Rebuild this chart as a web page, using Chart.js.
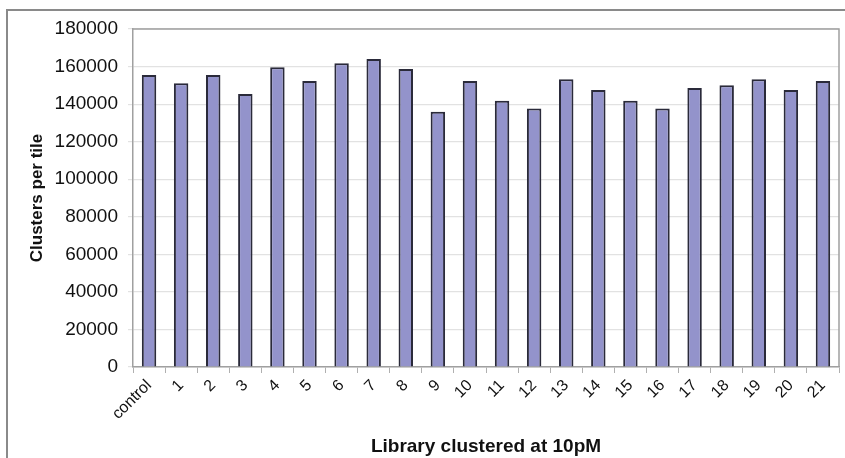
<!DOCTYPE html>
<html>
<head>
<meta charset="utf-8">
<script src="https://cdn.jsdelivr.net/npm/chart.js@4/dist/chart.umd.min.js"></script>
<style>
  html, body { margin: 0; padding: 0; background: #fff; overflow: hidden; }
  #wrap { position: relative; width: 845px; height: 458px; }
  #frame { position: absolute; left: 6px; top: 9px; width: 900px; height: 500px;
           border-left: 2px solid #8a8a8a; border-top: 2px solid #8a8a8a; }
  canvas { position: absolute; left: 0; top: 0; }
</style>
</head>
<body>
<div id="wrap">
  <div id="frame"></div>
  <canvas id="c" width="845" height="458"></canvas>
</div>
<script>
const categories = ['control','1','2','3','4','5','6','7','8','9','10','11','12','13','14','15','16','17','18','19','20','21'];
const clustersPerTile = [155500, 151100, 155500, 145400, 159600, 152300, 161700, 164000, 158700, 135900, 152300, 141800, 137700, 153200, 147500, 141800, 137700, 148600, 150000, 153200, 147500, 152300];
const yTicks = [0, 20000, 40000, 60000, 80000, 100000, 120000, 140000, 160000, 180000];
const xTitle = 'Library clustered at 10pM';
const yTitle = 'Clusters per tile';

const FONT = "'Liberation Sans', Arial, sans-serif";

const plotFrame = {
  id: 'plotFrame',
  afterDraw(chart) {
    const {ctx, chartArea: a} = chart;
    ctx.save();
    ctx.strokeStyle = '#a0a0a0';
    ctx.lineWidth = 1.5;
    ctx.beginPath();
    ctx.moveTo(a.left, a.top);
    ctx.lineTo(a.right, a.top);
    ctx.lineTo(a.right, a.bottom);
    ctx.stroke();
    ctx.restore();
  }
};

new Chart(document.getElementById('c'), {
  type: 'bar',
  data: {
    labels: categories,
    datasets: [{
      data: clustersPerTile,
      backgroundColor: '#9393cb',
      borderColor: '#2a2a3a',
      borderWidth: 2,
      categoryPercentage: 1.0,
      barPercentage: 0.45
    }]
  },
  options: {
    responsive: false,
    animation: false,
    devicePixelRatio: 1,
    layout: { padding: { left: 0, top: 29, right: 6, bottom: 0 } },
    plugins: { legend: { display: false }, tooltip: { enabled: false } },
    scales: {
      x: {
        grid: { display: true, drawOnChartArea: false, drawTicks: true, tickLength: 6, color: '#b0b0b0', offset: true },
        border: { display: true, color: '#a0a0a0', width: 1.5 },
        ticks: { color: '#111', font: { family: FONT, size: 16 }, minRotation: 45, maxRotation: 45, autoSkip: false, padding: 3 },
        title: { display: true, text: xTitle, color: '#111', font: { family: FONT, size: 19, weight: 'bold' }, padding: { top: 5, bottom: 0 } },
        afterFit(scale) { scale.height = 91; }
      },
      y: {
        min: 0, max: 180000,
        afterBuildTicks(scale) { scale.ticks = yTicks.map(v => ({ value: v })); },
        grid: { color: '#e2e2e2', lineWidth: 1.2, drawTicks: true, tickLength: 5 },
        border: { display: true, color: '#a0a0a0', width: 1.5 },
        ticks: { color: '#111', font: { family: FONT, size: 19 }, padding: 10, callback: v => String(v) },
        title: { display: true, text: yTitle, color: '#111', font: { family: FONT, size: 17, weight: 'bold' }, padding: { top: 27, bottom: 0 } },
        afterFit(scale) { scale.width = 133; }
      }
    }
  },
  plugins: [plotFrame]
});
</script>
</body>
</html>
